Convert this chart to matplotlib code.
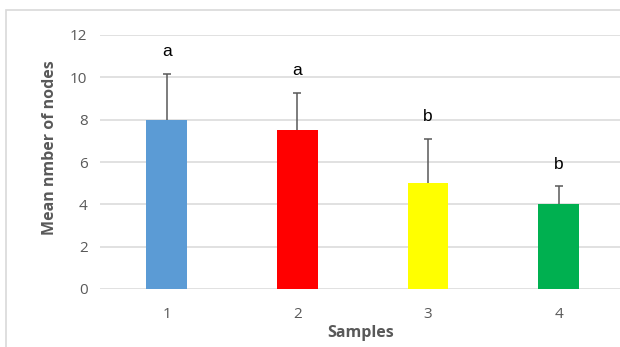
import matplotlib
matplotlib.use('Agg')
import matplotlib.pyplot as plt
from matplotlib.patches import Rectangle

# data
samples = [1, 2, 3, 4]
means = [8.0, 7.5, 5.0, 4.0]
err_upper = [2.15, 1.77, 2.1, 0.85]
letters = ['a', 'a', 'b', 'b']
bar_colors = ['#5b9bd5', '#ff0000', '#ffff00', '#00b050']

W, H = 620, 347
fig = plt.figure(figsize=(W / 100, H / 100), dpi=100)
plt.rcParams['font.family'] = ['Open Sans', 'DejaVu Sans']

# light chart-area border (Excel style, cut at right and bottom)
fig.patches.append(Rectangle((6 / W, -0.1), 1.2, 1.1 - 10 / H,
                             transform=fig.transFigure, fill=False,
                             edgecolor='#d9d9d9', lw=1.2, figure=fig))

ax = fig.add_axes([100 / W, 1 - 289 / H, 1 - 100 / W, (289 - 35) / H])

ax.bar(samples, means, width=0.31, color=bar_colors, zorder=3)

# upper-only error bars with a cap at the top
tops = [m + e for m, e in zip(means, err_upper)]
ax.vlines(samples, means, tops, color='#595959', lw=1.1, zorder=4)
ax.plot(samples, tops, ls='none', marker='_', ms=6, mew=1.1,
        color='#595959', zorder=4)

for x, t, lab in zip(samples, tops, letters):
    ax.annotate(lab, (x, t), xytext=(0, 16), textcoords='offset points',
                ha='center', va='center', fontsize=12.5, color='black',
                family=['Liberation Sans', 'DejaVu Sans'])

ax.set_xlim(0.49, 4.47)
ax.set_ylim(0, 12)
ax.set_yticks(range(0, 13, 2))
ax.set_xticks(samples)
ax.grid(axis='y', color='#d9d9d9', lw=1.1, zorder=0)
ax.set_axisbelow(True)
for s in ax.spines.values():
    s.set_visible(False)
ax.tick_params(length=0, colors='#595959', labelsize=11)
ax.tick_params(axis='x', pad=13)
ax.tick_params(axis='y', pad=9)

fig.text(361 / W, 1 - 333 / H, 'Samples', ha='center', va='center',
         fontsize=11.5, fontweight='bold', color='#595959')
fig.text(50 / W, 1 - 148 / H, 'Mean nmber of nodes', ha='center', va='center',
         rotation=90, fontsize=11.5, fontweight='bold', color='#595959')

fig.savefig('out.png', dpi=100)
